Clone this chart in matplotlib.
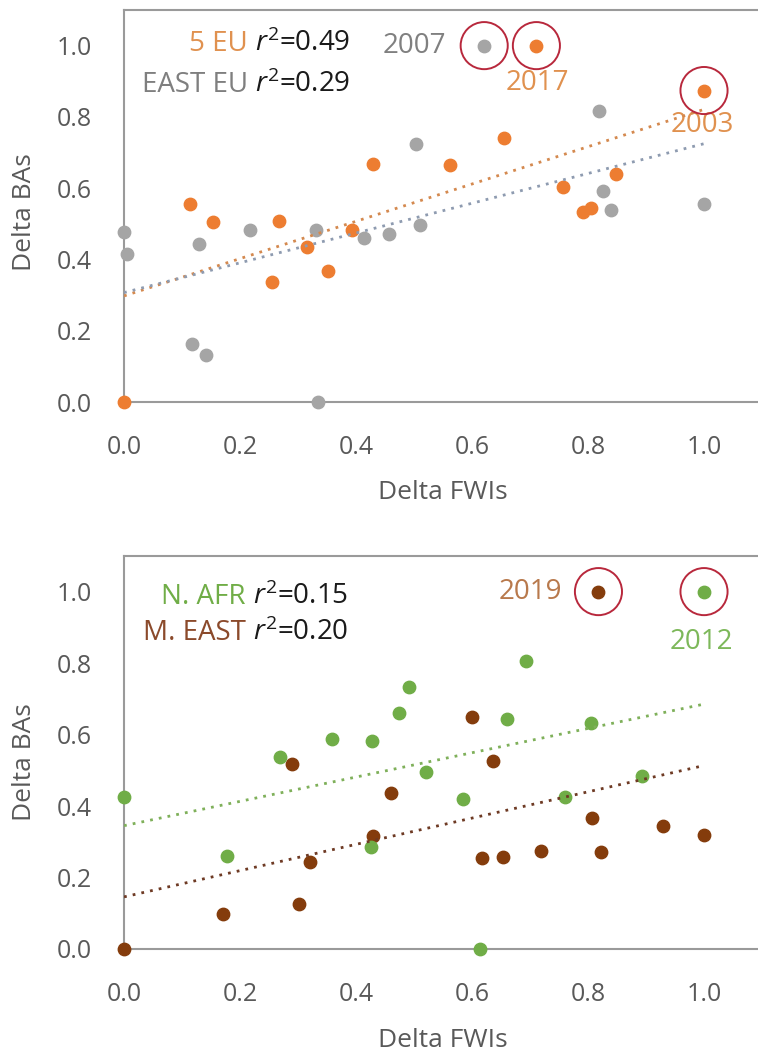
import numpy as np
import matplotlib
matplotlib.use('Agg')
import matplotlib.pyplot as plt

plt.rcParams['font.family'] = ['Open Sans', 'DejaVu Sans']
plt.rcParams['mathtext.fontset'] = 'custom'
plt.rcParams['mathtext.rm'] = 'Open Sans'
plt.rcParams['mathtext.it'] = 'Open Sans:italic'

# top panel: 5 EU (orange) and EAST EU (gray)
eu5_fwi = [0.0, 0.114, 0.154, 0.255, 0.268, 0.315, 0.351, 0.393, 0.430, 0.562,
           0.655, 0.711, 0.757, 0.791, 0.805, 0.849, 1.0]
eu5_ba = [0.0, 0.557, 0.506, 0.336, 0.509, 0.434, 0.369, 0.484, 0.667, 0.665,
          0.742, 1.0, 0.604, 0.532, 0.544, 0.639, 0.874]
east_fwi = [0.0, 0.006, 0.117, 0.130, 0.141, 0.217, 0.331, 0.334, 0.414, 0.457,
            0.503, 0.510, 0.621, 0.819, 0.826, 0.840, 1.0]
east_ba = [0.476, 0.414, 0.164, 0.444, 0.131, 0.484, 0.484, 0.0, 0.459, 0.472,
           0.723, 0.498, 1.0, 0.816, 0.593, 0.540, 0.557]

# bottom panel: N. AFR (green) and M. EAST (brown)
nafr_fwi = [0.0, 0.178, 0.269, 0.359, 0.425, 0.428, 0.474, 0.492, 0.520, 0.584,
            0.614, 0.660, 0.693, 0.761, 0.805, 0.893, 1.0]
nafr_ba = [0.426, 0.260, 0.538, 0.588, 0.285, 0.583, 0.661, 0.734, 0.495, 0.419,
           0.0, 0.643, 0.806, 0.424, 0.632, 0.485, 1.0]
meast_fwi = [0.0, 0.171, 0.290, 0.302, 0.320, 0.429, 0.460, 0.600, 0.617, 0.637,
             0.654, 0.719, 0.807, 0.818, 0.822, 0.930, 1.0]
meast_ba = [0.0, 0.097, 0.518, 0.125, 0.242, 0.317, 0.436, 0.648, 0.254, 0.526,
            0.257, 0.275, 0.366, 1.0, 0.272, 0.344, 0.319]

# highlighted years: (label, x, y) of circled points
top_years = [('2007', 0.621, 1.0), ('2017', 0.711, 1.0), ('2003', 1.0, 0.874)]
bot_years = [('2019', 0.818, 1.0), ('2012', 1.0, 1.0)]

ticks = [0.0, 0.2, 0.4, 0.6, 0.8, 1.0]
tick_labels = ['0.0', '0.2', '0.4', '0.6', '0.8', '1.0']

fig = plt.figure(figsize=(7.58, 10.51), dpi=100)
ax1 = fig.add_axes([0.1636, 0.6175, 0.8417, 0.373])
ax2 = fig.add_axes([0.1636, 0.0971, 0.8417, 0.374])

spine_col = '#9a9a9a'
tick_col = '#595959'
ring_col = '#b8283c'


def trend(ax, x, y, color):
    m, b = np.polyfit(x, y, 1)
    xs = np.array([min(x), max(x)])
    ax.plot(xs, m * xs + b, linestyle=(0, (1, 2.2)), lw=2.0, color=color,
            zorder=4)


def style(ax, ylab_y):
    ax.set_xlim(0, 1.1)
    ax.set_ylim(0, 1.1)
    ax.set_xticks(ticks)
    ax.set_xticklabels(tick_labels)
    ax.set_yticks(ticks)
    ax.set_yticklabels(tick_labels)
    ax.tick_params(length=0, labelsize=18, colors=tick_col)
    ax.tick_params(axis='x', pad=24)
    ax.tick_params(axis='y', pad=23)
    for s in ax.spines.values():
        s.set_color(spine_col)
        s.set_linewidth(1.5)
    ax.set_xlabel('Delta FWIs', fontsize=19, color=tick_col)
    ax.set_ylabel('Delta BAs', fontsize=19, color=tick_col)
    ax.xaxis.set_label_coords(0.5, -0.2)
    ax.yaxis.set_label_coords(-0.136, ylab_y)


def r2_label(ax, x, y, name, r2, color):
    t = ax.text(x, y, '$r^2$=' + r2, fontsize=20, color='#1a1a1a',
                ha='right', va='center')
    ax.annotate(name + ' ', xy=(0, 0.5), xycoords=t, fontsize=20,
                color=color, ha='right', va='center')


# top panel
ax1.scatter(east_fwi, east_ba, s=80, color='#a5a5a5', clip_on=False, zorder=3)
ax1.scatter(eu5_fwi, eu5_ba, s=80, color='#ed7d31', clip_on=False, zorder=3)
trend(ax1, eu5_fwi, eu5_ba, '#d4894f')
trend(ax1, east_fwi, east_ba, '#8e9bb0')
ax1.scatter([p[1] for p in top_years], [p[2] for p in top_years], s=1150,
            facecolors='none', edgecolors=ring_col, linewidths=1.4, zorder=5,
            clip_on=False)
ax1.text(0.555, 1.0, '2007', fontsize=20, color='#808080', ha='right',
         va='center')
ax1.text(0.712, 0.895, '2017', fontsize=20, color='#e0914f', ha='center',
         va='center')
ax1.text(0.997, 0.777, '2003', fontsize=20, color='#e0914f', ha='center',
         va='center')
r2_label(ax1, 0.39, 1.004, '5 EU', '0.49', '#e0914f')
r2_label(ax1, 0.39, 0.889, 'EAST EU', '0.29', '#7f7f7f')
style(ax1, 0.485)

# bottom panel
ax2.scatter(meast_fwi, meast_ba, s=80, color='#843c0c', clip_on=False, zorder=3)
ax2.scatter(nafr_fwi, nafr_ba, s=80, color='#70ad47', clip_on=False, zorder=3)
trend(ax2, nafr_fwi, nafr_ba, '#7fb05a')
trend(ax2, meast_fwi, meast_ba, '#6e3a24')
ax2.scatter([p[1] for p in bot_years], [p[2] for p in bot_years], s=1150,
            facecolors='none', edgecolors=ring_col, linewidths=1.4, zorder=5,
            clip_on=False)
ax2.text(0.756, 1.0, '2019', fontsize=20, color='#b8794c', ha='right',
         va='center')
ax2.text(0.995, 0.860, '2012', fontsize=20, color='#7db85a', ha='center',
         va='center')
r2_label(ax2, 0.387, 0.986, 'N. AFR', '0.15', '#70ad47')
r2_label(ax2, 0.387, 0.884, 'M. EAST', '0.20', '#8b4a2b')
style(ax2, 0.475)

fig.savefig('out.png', dpi=100)
